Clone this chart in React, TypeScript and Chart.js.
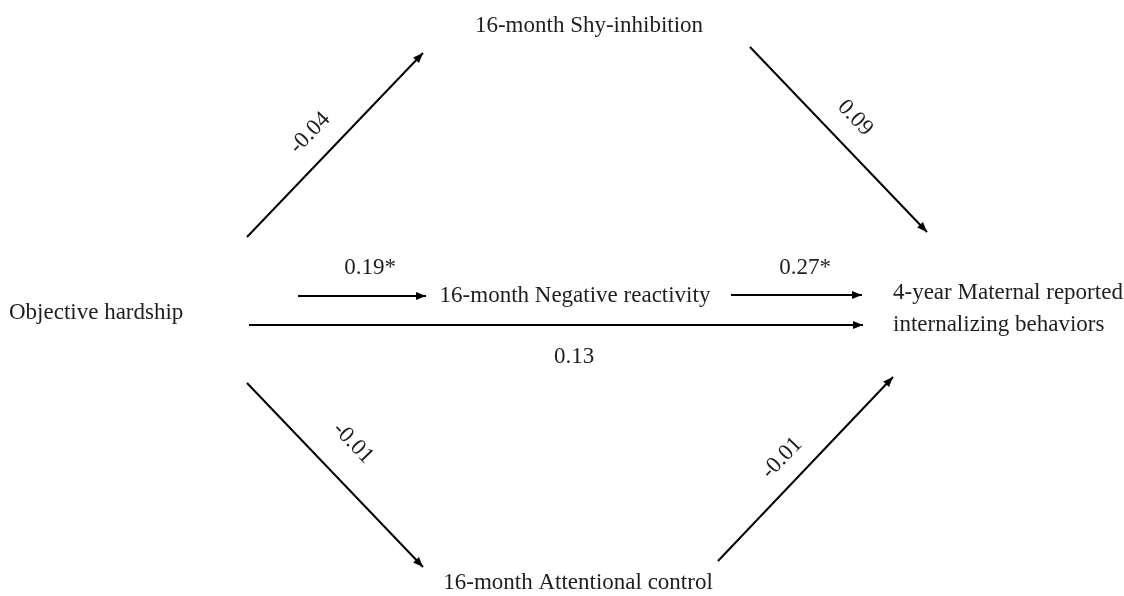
import React, { useEffect, useRef } from "react";
import { Chart, registerables } from "chart.js";

Chart.register(...registerables);

// Nodes of the path model (label lines, anchor x, anchor y, alignment)
const nodeLabels: string[][] = [
  ["16-month Shy-inhibition"],
  ["16-month Negative reactivity"],
  ["16-month Attentional control"],
  ["Objective hardship"],
  ["4-year Maternal reported", "internalizing behaviors"],
];
const nodeX = [589, 575, 578, 9, 893];
const nodeY = [26, 296, 583, 313, 293];
const nodeAlign: CanvasTextAlign[] = ["center", "center", "center", "left", "left"];

// Paths (arrows) in diagram units
const pathCoef = ["-0.04", "0.09", "-0.01", "-0.01", "0.19*", "0.27*", "0.13"];
const pathX0 = [247, 750, 247, 718, 298, 731, 249];
const pathY0 = [237, 47, 383, 561, 296, 295, 325];
const pathX1 = [423, 927, 423, 893, 426, 862, 863];
const pathY1 = [53, 232, 567, 377, 296, 295, 325];
// Coefficient label positions and rotation (degrees)
const coefX = [310, 855, 353, 782, 370, 805, 574];
const coefY = [133, 118, 443, 458, 268, 268, 357];
const coefRot = [-46, 46, 46, -46, 0, 0, 0];

const FONT = "23px 'Liberation Serif', 'Times New Roman', serif";

const diagramPlugin = {
  id: "diagram",
  afterDatasetsDraw(chart: any) {
    const { ctx, scales } = chart;
    const xs = scales.x;
    const ys = scales.y;
    ctx.save();
    // arrowheads
    chart.data.datasets.forEach((ds: any, i: number) => {
      const meta = chart.getDatasetMeta(i);
      const p0 = meta.data[0];
      const p1 = meta.data[1];
      if (!p0 || !p1) return;
      const ang = Math.atan2(p1.y - p0.y, p1.x - p0.x);
      const L = 10;
      const W = 4;
      ctx.beginPath();
      ctx.moveTo(p1.x, p1.y);
      ctx.lineTo(
        p1.x - L * Math.cos(ang) + W * Math.sin(ang),
        p1.y - L * Math.sin(ang) - W * Math.cos(ang)
      );
      ctx.lineTo(
        p1.x - L * Math.cos(ang) - W * Math.sin(ang),
        p1.y - L * Math.sin(ang) + W * Math.cos(ang)
      );
      ctx.closePath();
      ctx.fillStyle = "#000";
      ctx.fill();
    });
    ctx.fillStyle = "#1e1e1e";
    ctx.font = FONT;
    ctx.textBaseline = "middle";
    // node labels
    nodeLabels.forEach((lines, i) => {
      ctx.textAlign = nodeAlign[i];
      lines.forEach((t, j) => {
        ctx.fillText(t, xs.getPixelForValue(nodeX[i]), ys.getPixelForValue(nodeY[i] + j * 32));
      });
    });
    // coefficients
    pathCoef.forEach((t, i) => {
      ctx.save();
      ctx.translate(xs.getPixelForValue(coefX[i]), ys.getPixelForValue(coefY[i]));
      ctx.rotate((coefRot[i] * Math.PI) / 180);
      ctx.textAlign = "center";
      ctx.fillText(t, 0, 0);
      ctx.restore();
    });
    ctx.restore();
  },
};

export default function App() {
  const ref = useRef<HTMLCanvasElement>(null);
  useEffect(() => {
    document.body.style.margin = "0";
    const datasets = pathCoef.map((c, i) => ({
      label: c,
      data: [
        { x: pathX0[i], y: pathY0[i] },
        { x: pathX1[i], y: pathY1[i] },
      ],
      showLine: true,
      borderColor: "#000",
      borderWidth: 2,
      pointRadius: 0,
      fill: false,
    }));
    const chart = new Chart(ref.current!, {
      type: "scatter",
      data: { datasets },
      options: {
        animation: false,
        responsive: false,
        maintainAspectRatio: false,
        layout: { padding: 0 },
        plugins: { legend: { display: false }, tooltip: { enabled: false } },
        scales: {
          x: { type: "linear", min: 0, max: 1124, display: false },
          y: { type: "linear", min: 0, max: 596, reverse: true, display: false },
        },
      },
      plugins: [diagramPlugin],
    });
    return () => chart.destroy();
  }, []);
  return (
    <div style={{ width: 1124, height: 596, background: "#fff" }}>
      <canvas ref={ref} width={1124} height={596} style={{ display: "block" }} />
    </div>
  );
}
